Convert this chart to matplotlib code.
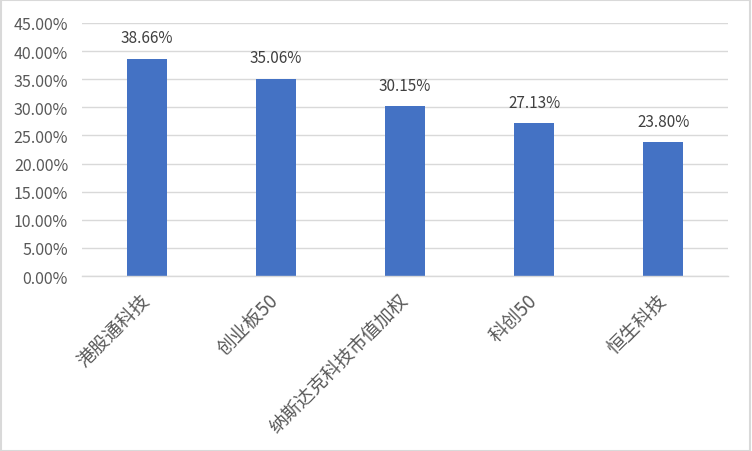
import matplotlib.pyplot as plt
from matplotlib.ticker import PercentFormatter

plt.rcParams['font.family'] = ['Noto Sans CJK SC', 'DejaVu Sans']
plt.rcParams['font.weight'] = 'light'

categories = ['港股通科技', '创业板50', '纳斯达克科技市值加权', '科创50', '恒生科技']
values = [38.66, 35.06, 30.15, 27.13, 23.80]

fig = plt.figure(figsize=(7.52, 4.52), dpi=100)
ax = fig.add_axes([0.109, 0.387, 0.859, 0.56])

x = range(len(categories))
bars = ax.bar(x, values, width=0.31, color='#4472C4', zorder=3)

# data labels above bars
for b, v in zip(bars, values):
    ax.annotate(f'{v:.2f}%', (b.get_x() + b.get_width() / 2, v),
                xytext=(0, 9), textcoords='offset points',
                ha='center', va='bottom', fontsize=11, color='#404040')

ax.set_ylim(0, 45)
ax.set_xlim(-0.5, len(categories) - 0.5)
ax.set_yticks([i * 5 for i in range(10)])
ax.yaxis.set_major_formatter(PercentFormatter(decimals=2))
ax.grid(axis='y', color='#D9D9D9', linewidth=1, zorder=0)

ax.set_xticks(list(x))
ax.set_xticklabels(categories, rotation=45, ha='right', va='center',
                   rotation_mode='anchor', fontsize=13.5, color='#595959')
ax.tick_params(axis='y', labelsize=11.5, labelcolor='#595959', length=0, pad=10)
ax.tick_params(axis='x', length=0, pad=15)

for s in ['top', 'right', 'left']:
    ax.spines[s].set_visible(False)
ax.spines['bottom'].set_color('#D9D9D9')
ax.spines['bottom'].set_linewidth(1)
ax.spines['bottom'].set_zorder(4)

fig.patches.append(plt.Rectangle((0.001, 0.001), 0.997, 0.996, transform=fig.transFigure,
                                 fill=False, edgecolor='#D9D9D9', linewidth=1.5))

fig.savefig('out.png', dpi=100)
